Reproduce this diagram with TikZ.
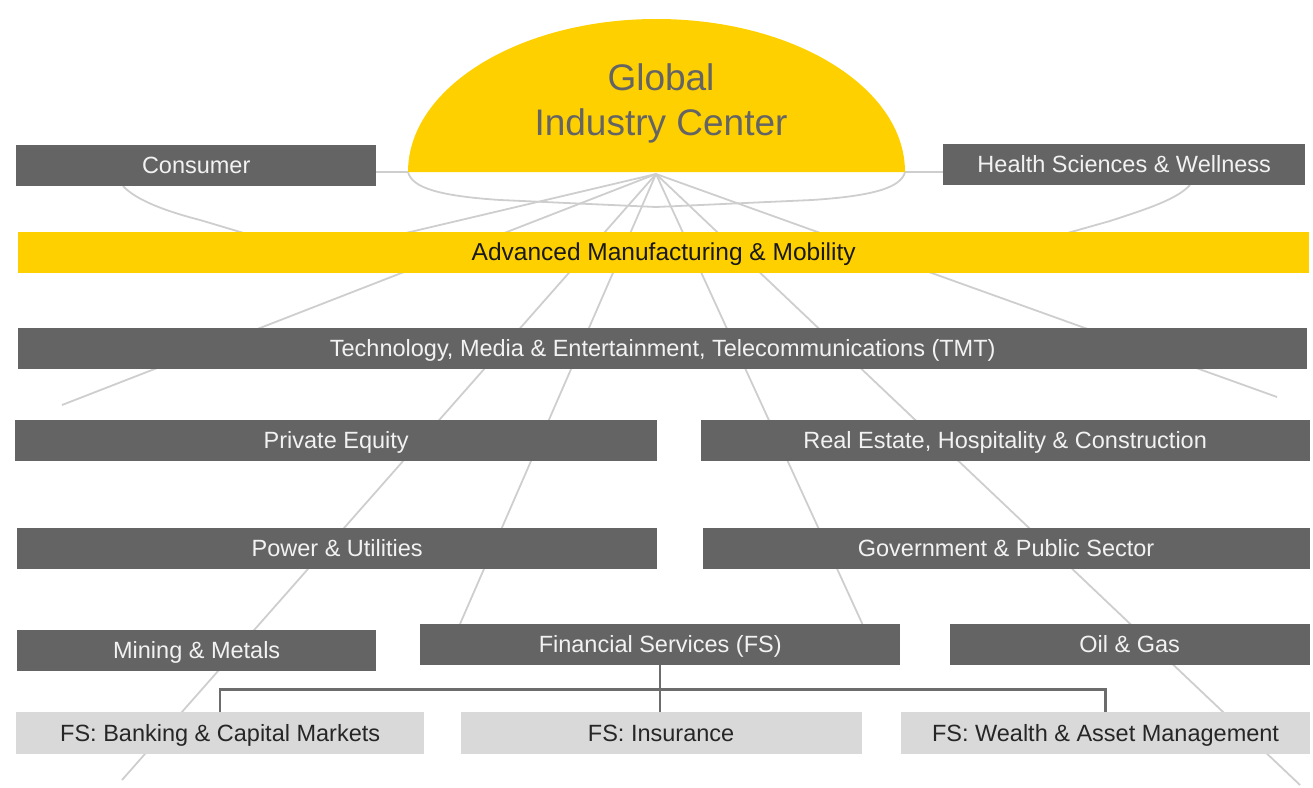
\documentclass[tikz,border=0pt]{standalone}
\usepackage{fontspec}
\setmainfont{Liberation Sans}
\usepackage{tikz}
\usetikzlibrary{positioning}
\usetikzlibrary{backgrounds}
\definecolor{eyyellow}{RGB}{255,208,0}
\definecolor{eygray}{RGB}{100,100,100}
\definecolor{eylight}{RGB}{217,217,217}
\definecolor{raygray}{RGB}{206,206,206}
\definecolor{treegray}{RGB}{108,108,108}
\tikzstyle{sector} = [rectangle, fill=eygray, text=white!95!black, anchor=north west, inner sep=0pt, minimum height=41pt, text height=16pt, text depth=0pt, font=\fontsize{23.5}{28}\selectfont]
\tikzstyle{focus} = [sector, fill=eyyellow, text=black!90, font=\fontsize{24.5}{28}\selectfont]
\tikzstyle{subsector} = [sector, fill=eylight, text=black!85]
\tikzstyle{ray} = [draw=raygray, line width=1.8pt]
\tikzstyle{tree} = [draw=treegray, line width=2.5pt]

\begin{document}
\begin{tikzpicture}[x=1pt, y=-1pt]
    \useasboundingbox (0,0) rectangle (1313,787);
    % the dome on top
    \coordinate (domeL) at (408,172);
    \coordinate (domeR) at (905,172);
    \coordinate (hub) at (656,174);
    \fill[eyyellow] (domeL) arc[start angle=180, end angle=0, x radius=248.5pt, y radius=153pt] -- cycle;
    \node[name=gic, align=center, text=eygray, font=\fontsize{37}{45}\selectfont] at (661,103) {Global\\Industry Center};

    \node[sector, name=consumer, minimum width=360pt] at (16,145) {Consumer};
    \node[sector, name=hsw, minimum width=362pt] at (943,144) {Health Sciences \& Wellness};
    \node[focus, name=amm, minimum width=1291pt] at (18,232) {Advanced Manufacturing \& Mobility};
    \node[sector, name=tmt, minimum width=1289pt] at (18,328) {Technology, Media \& Entertainment, Telecommunications (TMT)};
    \node[sector, name=pe, minimum width=642pt] at (15,420) {Private Equity};
    \node[sector, name=rehc, right=43pt of pe, minimum width=609pt] {Real Estate, Hospitality \& Construction};
    \node[sector, name=pu, minimum width=640pt] at (17,528) {Power \& Utilities};
    \node[sector, name=gps, right=45pt of pu, minimum width=607pt] {Government \& Public Sector};
    \node[sector, name=mm, minimum width=359pt] at (17,630) {Mining \& Metals};
    \node[sector, name=fs, minimum width=480pt] at (420,624) {Financial Services (FS)};
    \node[sector, name=og, right=49pt of fs, minimum width=360pt] {Oil \& Gas};
    \node[subsector, name=bcm, minimum width=408pt, minimum height=42pt] at (16,712) {FS: Banking \& Capital Markets};
    \node[subsector, name=ins, right=36pt of bcm, minimum width=401pt, minimum height=42pt] {FS: Insurance};
    \node[subsector, name=wam, right=39pt of ins, minimum width=409pt, minimum height=42pt] {FS: Wealth \& Asset Management};

    % FS tree
    \draw[tree] (fs.south) -- ++(0,24) coordinate (fsbus) -| (bcm.north);
    \draw[tree] (fsbus) -| (wam.north);
    \draw[tree] (fsbus) -- (fsbus |- ins.north);

    % rays and orbits behind the boxes
    \begin{scope}[on background layer]
        \coordinate (rA) at (300,258);
        \coordinate (rB) at (62,405);
        \coordinate (rC) at (122,780);
        \coordinate (rD) at ([xshift=40pt]fs.north west);
        \coordinate (rE) at ([xshift=-38pt]fs.north east);
        \coordinate (rF) at (1300,785);
        \coordinate (rG) at (1277,397);
        \foreach \e in {rA,rB,rC,rD,rE,rF,rG}
            \draw[ray] (hub) -- (\e);
        \coordinate (orbitL) at (123,186);
        \coordinate (orbitR) at (1190,185);
        \coordinate (ammL) at (247,234);
        \coordinate (ammR) at (1064,234);
        \draw[ray] (consumer.east |- domeL) -- (domeL);
        \draw[ray] (domeR) -- (hsw.west |- domeR);
        \draw[ray] (domeL) .. controls (412,188) and (440,196) .. (500,200) -- (656,207) -- (812,200) .. controls (872,196) and (901,188) .. (domeR);
        \draw[ray] (orbitL) .. controls (136,200) and (165,211) .. (200,220) -- (ammL);
        \draw[ray] (orbitR) .. controls (1177,199) and (1150,208) .. (1110,221) -- (ammR);
    \end{scope}
\end{tikzpicture}
\end{document}
